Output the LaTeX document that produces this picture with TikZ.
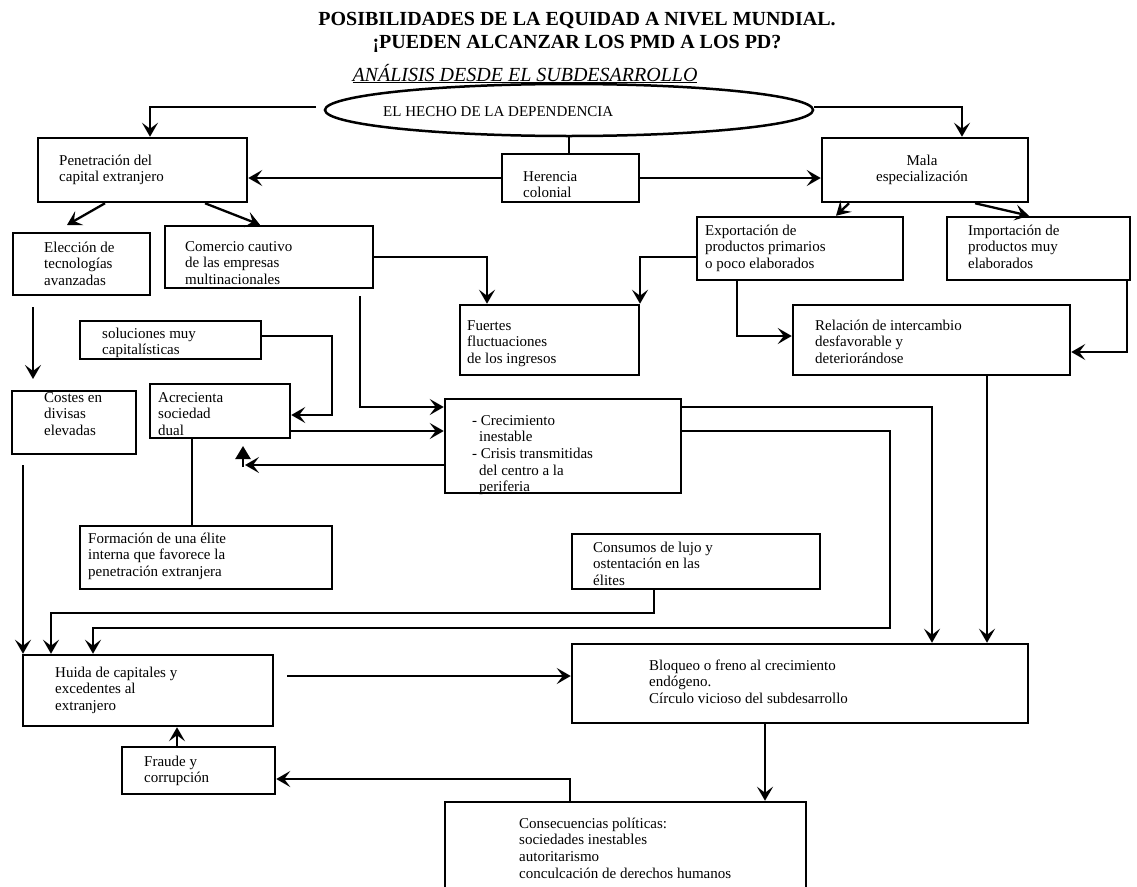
\documentclass[tikz,border=0pt]{standalone}
\usepackage{fontspec}
\setmainfont{Liberation Serif}
\usetikzlibrary{arrows.meta,shapes.geometric,fit}
\newcommand{\lns}[1]{\begin{tabular}[t]{@{}l@{}}#1\end{tabular}}
\newcommand{\cns}[1]{\begin{tabular}[t]{@{}c@{}}#1\end{tabular}}
\begin{document}
\begin{tikzpicture}[x=1pt,y=-1pt,
  box/.style={draw, line width=2.5pt, inner sep=0pt, rectangle},
  txt/.style={anchor=base west, inner sep=0pt, font=\fontsize{15}{16.7}\selectfont},
  arr/.style={line width=2.3pt, -{Stealth[length=14pt,width=16pt,inset=6pt]}},
  ln/.style={line width=2.3pt}]
\useasboundingbox (0,0) rectangle (1137,886);
\clip (0,0) rectangle (1137,886);
\fill[white] (0,0) rectangle (1137,886);

% titles
\node[anchor=base, inner sep=0pt, font=\fontsize{20}{23}\selectfont\bfseries] (title) at (577,25)
  {\cns{POSIBILIDADES DE LA EQUIDAD A NIVEL MUNDIAL.\\¡PUEDEN ALCANZAR LOS PMD A LOS PD?}};
\node[anchor=base, inner sep=0pt, font=\fontsize{20}{23}\selectfont\itshape] (sub) at (525,81)
  {\underline{ANÁLISIS DESDE EL SUBDESARROLLO}};

% ellipse
\node[draw, ellipse, line width=2.5pt, inner sep=0pt, minimum width=488pt, minimum height=52pt] (ell) at (569,110) {};
\node[txt] (ell-t) at (383,116) {EL HECHO DE LA DEPENDENCIA};

% boxes
\node[box, fit={(38,138) (247,202)}] (pen) {};
\node[txt] (pen-t) at (59,165) {\lns{Penetración del\\capital extranjero}};
\node[box, fit={(502,154) (639,202)}] (her) {};
\node[txt, font=\fontsize{15}{16}\selectfont] (her-t) at (523,181) {\lns{Herencia\\colonial}};
\node[box, fit={(822,138) (1028,202)}] (mala) {};
\node[txt, anchor=base] (mala-t) at (922,165) {\cns{Mala\\especialización}};
\node[box, fit={(13,233) (150,295)}] (ele) {};
\node[txt] (ele-t) at (44,252) {\lns{Elección de\\tecnologías\\avanzadas}};
\node[box, fit={(165,226) (373,288)}] (com) {};
\node[txt] (com-t) at (185,251) {\lns{Comercio cautivo\\de las empresas\\multinacionales}};
\node[box, fit={(697,217) (903,280)}] (exp) {};
\node[txt] (exp-t) at (705,235) {\lns{Exportación de\\productos primarios\\o poco elaborados}};
\node[box, fit={(947,217) (1130,280)}] (imp) {};
\node[txt] (imp-t) at (968,235) {\lns{Importación de\\productos muy\\elaborados}};
\node[box, fit={(80,321) (261,359)}] (sol) {};
\node[txt, font=\fontsize{15}{16}\selectfont] (sol-t) at (102,338) {\lns{soluciones muy\\capitalísticas}};
\node[box, fit={(460,305) (639,375)}] (fue) {};
\node[txt] (fue-t) at (467,330) {\lns{Fuertes\\fluctuaciones\\de los ingresos}};
\node[box, fit={(793,305) (1070,375)}] (rel) {};
\node[txt] (rel-t) at (815,330) {\lns{Relación de intercambio\\desfavorable y\\deteriorándose}};
\node[box, fit={(12,391) (136,454)}] (cos) {};
\node[txt] (cos-t) at (44,402) {\lns{Costes en\\divisas\\elevadas}};
\node[box, fit={(150,384) (290,438)}] (acr) {};
\node[txt] (acr-t) at (158,402) {\lns{Acrecienta\\sociedad\\dual}};
\node[box, fit={(445,399) (681,493)}] (cre) {};
\node[txt] (cre-t) at (472,425) {\lns{- Crecimiento\\\hspace*{7pt}inestable\\- Crisis transmitidas\\\hspace*{7pt}del centro a la\\\hspace*{7pt}periferia}};
\node[box, fit={(80,526) (332,589)}] (for) {};
\node[txt] (for-t) at (88,543) {\lns{Formación de una élite\\interna que favorece la\\penetración extranjera}};
\node[box, fit={(572,534) (820,589)}] (con) {};
\node[txt] (con-t) at (593,552) {\lns{Consumos de lujo y\\ostentación en las\\élites}};
\node[box, fit={(23,655) (273,726)}] (hui) {};
\node[txt] (hui-t) at (55,677) {\lns{Huida de capitales y\\excedentes al\\extranjero}};
\node[box, fit={(572,644) (1028,723)}] (blo) {};
\node[txt] (blo-t) at (649,670) {\lns{Bloqueo o freno al crecimiento\\endógeno.\\Círculo vicioso del subdesarrollo}};
\node[box, fit={(122,747) (275,794)}] (fra) {};
\node[txt, font=\fontsize{15}{16}\selectfont] (fra-t) at (144,766) {\lns{Fraude y\\corrupción}};
\node[box, fit={(445,802) (806,910)}] (cns) {};
\node[txt] (cns-t) at (519,828) {\lns{Consecuencias políticas:\\sociedades inestables\\autoritarismo\\conculcación de derechos humanos}};

% free ends
\coordinate (eL) at (316,107);
\coordinate (eleTop) at (67,225);
\coordinate (comGap) at (360,296);
\coordinate (cosGap) at (23,465);
\coordinate (eleGap) at (33,307);
\coordinate (cosTop) at (33,379);
\coordinate (acrTip) at (245,465);
\coordinate (triBase) at (243,467);
\coordinate (triTip) at (243,446);
\coordinate (huiGap) at (287,676);

% connectors
\draw[arr] (eL) -| (150,0 |- pen.north);
\draw[arr] (ell.east |- 0,107) -| (962,0 |- mala.north);
\draw[ln] (ell.south) -- (ell.south |- her.north);
\draw[arr] (her.west |- 0,178) -- (pen.east |- 0,178);
\draw[arr] (her.east |- 0,178) -- (mala.west |- 0,178);
\draw[arr] (105,0 |- pen.south) -- (eleTop);
\draw[arr] (205,0 |- pen.south) -- (260,0 |- com.north);
\draw[arr] (com.east |- 0,257) -| (487,0 |- fue.north);
\draw[arr] (comGap) |- (cre.west |- 0,407);
\draw[arr] (849,0 |- mala.south) -- (836,0 |- exp.north);
\draw[arr] (975,0 |- mala.south) -- (1029,0 |- imp.north);
\draw[arr] (exp.west |- 0,257) -| (640,0 |- fue.north);
\draw[arr] (737,0 |- exp.south) |- (rel.west |- 0,336);
\draw[arr] (1127,0 |- imp.south) |- (rel.east |- 0,352);
\draw[arr] (987,0 |- rel.south) -- (987,0 |- blo.north);
\draw[arr] (cre.east |- 0,407) -| (932,0 |- blo.north);
\draw[arr] (cre.east |- 0,431) -| (890,628) -| (93,0 |- hui.north);
\draw[arr] (654,0 |- con.south) -- (654,613) -| (51,0 |- hui.north);
\draw[arr] (cosGap) -- (23,0 |- hui.north);
\draw[arr] (eleGap) -- (cosTop);
\draw[arr] (sol.east |- 0,336) -- (332,336) |- (acr.east |- 0,415);
\draw[arr] (acr.east |- 0,431) -- (cre.west |- 0,431);
\draw[arr] (cre.west |- 0,465) -- (acrTip);
\draw[line width=2.3pt, -{Triangle[length=13pt,width=15pt]}] (triBase) -- (triTip);
\draw[ln] (192,0 |- acr.south) -- (192,0 |- for.north);
\draw[arr] (huiGap) -- (blo.west |- 0,676);
\draw[arr] (765,0 |- blo.south) -- (765,0 |- cns.north);
\draw[arr] (177,0 |- fra.north) -- (177,0 |- hui.south);
\draw[arr] (570,0 |- cns.north) |- (fra.east |- 0,779);
\end{tikzpicture}
\end{document}
